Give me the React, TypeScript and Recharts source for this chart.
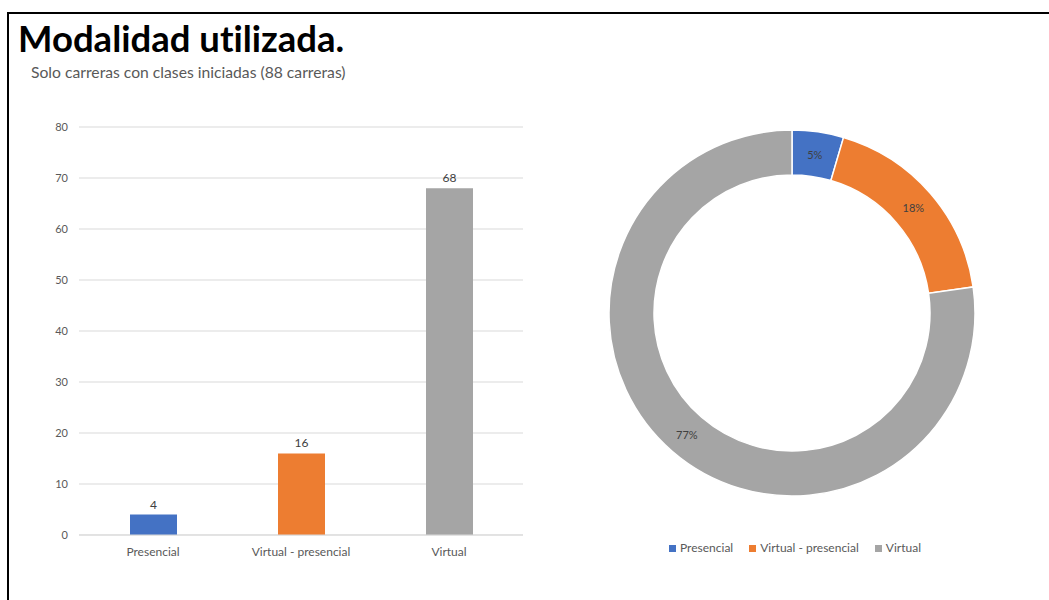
import React from "react"
import { BarChart, Bar, XAxis, YAxis, CartesianGrid, LabelList, Cell, PieChart, Pie } from "recharts"

const categories = ["Presencial", "Virtual - presencial", "Virtual"]
const careerCounts = [4, 16, 68]
const sliceColors = ["#4472C4", "#ED7D31", "#A5A5A5"]
const yTicks = [0, 10, 20, 30, 40, 50, 60, 70, 80]

const rows = categories.map((name, i) => ({ name, value: careerCounts[i] }))

const FONT = "Lato, 'Open Sans', sans-serif"
const RADIAN = Math.PI / 180

function renderSliceLabel(props: any) {
  const { cx, cy, midAngle, innerRadius, outerRadius, percent } = props
  const r = (innerRadius + outerRadius) / 2
  const x = cx + r * Math.cos(-midAngle * RADIAN)
  const y = cy + r * Math.sin(-midAngle * RADIAN)
  return (
    <text x={x} y={y} fill="#404040" fontSize={11} fontFamily={FONT} textAnchor="middle" dominantBaseline="central">
      {`${Math.round(percent * 100)}%`}
    </text>
  )
}

export default function App() {
  return (
    <div style={{ position: "absolute", left: 0, top: 0, width: 1049, height: 600, overflow: "hidden", background: "#fff", fontFamily: FONT, fontVariantLigatures: "none" }}>
      <div style={{ position: "absolute", left: 7, top: 12, width: 1100, height: 700, borderLeft: "2px solid #000", borderTop: "2px solid #000" }} />
      <div style={{ position: "absolute", left: 18, top: 17, fontSize: 36.5, fontWeight: 700, color: "#000", whiteSpace: "nowrap", lineHeight: 1.2 }}>
        Modalidad utilizada.
      </div>
      <div style={{ position: "absolute", left: 31, top: 63, fontSize: 15.7, color: "#595959", whiteSpace: "nowrap", lineHeight: 1.2 }}>
        Solo carreras con clases iniciadas (88 carreras)
      </div>

      <div style={{ position: "absolute", left: 0, top: 100 }}>
        <BarChart width={540} height={480} data={rows} margin={{ top: 27, right: 17, bottom: 15, left: 0 }}>
          <CartesianGrid vertical={false} stroke="#d9d9d9" />
          <XAxis
            dataKey="name"
            height={30}
            tickSize={0}
            tickMargin={12}
            axisLine={{ stroke: "#d9d9d9" }}
            tick={{ fill: "#595959", fontSize: 12, fontFamily: FONT }}
          />
          <YAxis
            width={79}
            domain={[0, 80]}
            ticks={yTicks}
            tickSize={0}
            tickMargin={11}
            axisLine={false}
            tick={{ fill: "#595959", fontSize: 11, fontFamily: FONT }}
          />
          <Bar dataKey="value" barSize={47} isAnimationActive={false}>
            {rows.map((r, i) => (
              <Cell key={r.name} fill={sliceColors[i]} />
            ))}
            <LabelList dataKey="value" position="top" offset={6} fill="#404040" fontSize={12} fontFamily={FONT} />
          </Bar>
        </BarChart>
      </div>

      <div style={{ position: "absolute", left: 572, top: 100 }}>
        <PieChart width={446} height={430} margin={{ top: 0, right: 0, bottom: 0, left: 0 }}>
          <Pie
            data={rows}
            dataKey="value"
            nameKey="name"
            cx={220}
            cy={213}
            innerRadius={138}
            outerRadius={183}
            startAngle={90}
            endAngle={-270}
            stroke="#fff"
            strokeWidth={1.5}
            label={renderSliceLabel}
            labelLine={false}
            isAnimationActive={false}
          >
            {rows.map((r, i) => (
              <Cell key={r.name} fill={sliceColors[i]} />
            ))}
          </Pie>
        </PieChart>
      </div>

      <div style={{ position: "absolute", left: 572, top: 540, width: 446, display: "flex", justifyContent: "center", gap: 16, fontSize: 12, color: "#595959", lineHeight: "16px" }}>
        {categories.map((c, i) => (
          <span key={c} style={{ display: "flex", alignItems: "center", whiteSpace: "nowrap" }}>
            <span style={{ width: 7, height: 7, background: sliceColors[i], marginRight: 4, display: "inline-block" }} />
            {c}
          </span>
        ))}
      </div>
    </div>
  )
}
